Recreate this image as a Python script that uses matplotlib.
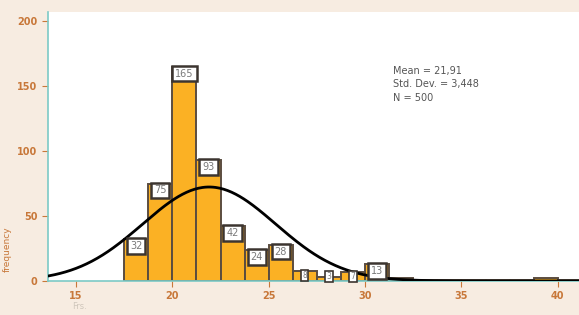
import matplotlib.pyplot as plt
import numpy as np

# histogram data (bins of width 1.25 starting at 17.5)
bin_start = 17.5
bin_width = 1.25
counts = [32, 75, 165, 93, 42, 24, 28, 8, 3, 7, 13, 2, 1, 1, 1, 1, 1, 2, 1]
labeled = [32, 75, 165, 93, 42, 24, 28, 8, 3, 7, 13]
mean = 21.91
std = 3.448
n = 500
xticks = [15, 20, 25, 30, 35, 40]
yticks = [0, 50, 100, 150, 200]

bg = "#f7ece1"
orange = "#fbb124"
edge = "#5b4d40"
tick_col = "#c8783a"
teal = "#7ccac6"

fig = plt.figure(figsize=(5.79, 3.15), dpi=100, facecolor=bg)
ax = fig.add_axes([0.083, 0.108, 0.917, 0.854])
ax.set_facecolor("white")

edges = bin_start + bin_width * np.arange(len(counts))
bars = ax.bar(edges, counts, width=bin_width, align="edge", color=orange,
              edgecolor=edge, linewidth=1.4, zorder=2)

for i, c in enumerate(counts):
    if i >= len(labeled):
        continue
    small = c < 10
    ypos = max(c - 0.5, 7) if small else c - 1.5
    ax.text(edges[i] + bin_width / 2, ypos, str(c),
            ha="center", va="top", fontsize=5.5 if small else 7, color="#7a7a7a", zorder=4,
            bbox=dict(boxstyle="square,pad=%s" % (0.15 if small else 0.3), facecolor="white",
                      edgecolor="#3c3530", linewidth=1.2 if small else 1.8))

xs = np.linspace(13.55, 41.1, 400)
ys = n * bin_width * np.exp(-0.5 * ((xs - mean) / std) ** 2) / (std * np.sqrt(2 * np.pi))
ax.plot(xs, ys, color="black", linewidth=2, zorder=3)

ax.set_xlim(13.55, 41.1)
ax.set_ylim(0, 207)
ax.set_xticks(xticks)
ax.set_yticks(yticks)
ax.tick_params(axis="both", colors=tick_col, labelsize=7, length=4, width=0.8, direction="out")
for lab in ax.get_xticklabels() + ax.get_yticklabels():
    lab.set_fontweight("bold")
    lab.set_color(tick_col)

for s in ["top", "right"]:
    ax.spines[s].set_visible(False)
ax.spines["left"].set_color(teal)
ax.spines["bottom"].set_color(teal)
ax.spines["left"].set_linewidth(1.2)
ax.spines["bottom"].set_linewidth(1.2)

ax.set_ylabel("frequency", color=tick_col, fontsize=6.5, labelpad=14)
ax.yaxis.set_label_coords(-0.068, 0.12)

ax.text(0.65, 0.80, "Mean = 21,91\nStd. Dev. = 3,448\nN = 500", transform=ax.transAxes,
        fontsize=7, color="#555555", va="top", linespacing=1.45)

fig.text(0.125, 0.02, "Frs.", fontsize=6, color="#cfc6bb")

fig.savefig("out.png", dpi=100, facecolor=bg)
